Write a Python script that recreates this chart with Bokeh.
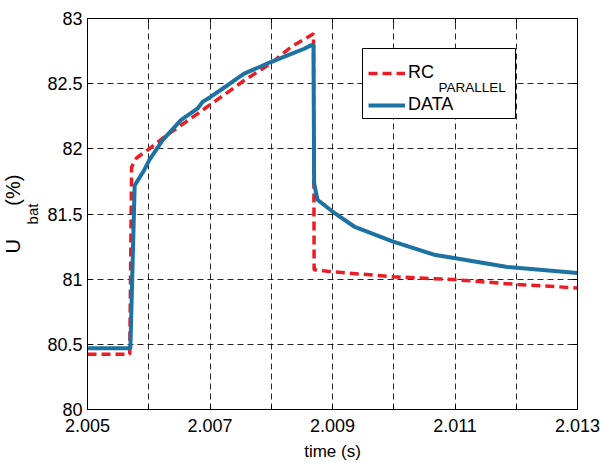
from bokeh.plotting import figure
from bokeh.models import (Range1d, FixedTicker, CustomJSTickFormatter, LinearAxis,
                          Legend, LegendItem, Label, BoxAnnotation, Title)
from bokeh.embed import file_html
from bokeh.resources import INLINE

# ---- data ----
rc_t = [2.00500, 2.00569, 2.00572, 2.00580, 2.00601, 2.00625, 2.00680, 2.00699,
        2.00734, 2.00756, 2.00799, 2.00832, 2.00869, 2.00870, 2.00892, 2.01000,
        2.01098, 2.01202, 2.01300]
rc_u = [80.424, 80.424, 81.86, 81.93, 82.00, 82.09, 82.27, 82.335,
        82.45, 82.526, 82.654, 82.78, 82.883, 81.073, 81.06, 81.018,
        80.997, 80.959, 80.933]

data_t = [2.00500, 2.00570, 2.00577, 2.005927, 2.006008, 2.006227, 2.006525, 2.006798,
          2.006879, 2.007015, 2.007287, 2.007558, 2.007993, 2.008266, 2.008537,
          2.008646, 2.00869, 2.00870, 2.008755, 2.009000, 2.009353, 2.009979,
          2.010657, 2.010984, 2.011855, 2.013000]
data_u = [80.47, 80.47, 81.72, 81.838, 81.914, 82.067, 82.22, 82.31,
          82.36, 82.40, 82.488, 82.577, 82.666, 82.717, 82.768,
          82.794, 82.794, 81.736, 81.609, 81.519, 81.404, 81.29,
          81.188, 81.163, 81.094, 81.048]

x_ticks = [2.005, 2.006, 2.007, 2.008, 2.009, 2.010, 2.011, 2.012, 2.013]
y_ticks = [80, 80.5, 81, 81.5, 82, 82.5, 83]

FONT = "Liberation Sans"
RED = "#ec1c24"
BLUE = "#1c72a2"
NBSP = "\u00a0"

p = figure(width=601, height=463, output_backend="svg", toolbar_location=None,
           x_range=Range1d(2.005, 2.013), y_range=Range1d(80, 83),
           min_border_left=87, min_border_right=24, min_border_top=18,
           min_border_bottom=53, background_fill_color="white",
           border_fill_color="white")
p.outline_line_color = "black"
p.outline_line_width = 1
p.outline_line_alpha = 1

xfmt = CustomJSTickFormatter(code="""
const k = Math.round(tick*1000);
return (k % 2 == 1) ? tick.toFixed(3) : '';
""")
yfmt = CustomJSTickFormatter(code="return String(Math.round(tick*10)/10);")
blank = CustomJSTickFormatter(code="return '';")

for ax in p.xaxis:
    ax.ticker = FixedTicker(ticks=x_ticks)
    ax.formatter = xfmt
    ax.axis_label = "time (s)"
for ax in p.yaxis:
    ax.ticker = FixedTicker(ticks=y_ticks)
    ax.formatter = yfmt

for ax in list(p.xaxis) + list(p.yaxis):
    ax.major_tick_in = 5
    ax.major_tick_out = 0
    ax.minor_tick_line_color = None
    ax.axis_line_color = "black"
    ax.major_tick_line_color = "black"
    ax.major_label_text_font = FONT
    ax.major_label_text_font_size = "18px"
    ax.major_label_text_color = "black"
    ax.axis_label_text_font = FONT
    ax.axis_label_text_font_size = "17px"
    ax.axis_label_text_font_style = "normal"
    ax.axis_label_text_color = "black"

p.xaxis.major_label_standoff = 9
p.xaxis.axis_label_standoff = 7
p.yaxis.major_label_standoff = 5

# mirror axes (inward ticks only) on top and right, as in the reference box
top_ax = LinearAxis(ticker=FixedTicker(ticks=x_ticks), formatter=blank,
                    major_tick_in=5, major_tick_out=0, minor_tick_line_color=None,
                    major_label_standoff=0, axis_line_color="black")
right_ax = LinearAxis(ticker=FixedTicker(ticks=y_ticks), formatter=blank,
                      major_tick_in=5, major_tick_out=0, minor_tick_line_color=None,
                      major_label_standoff=0, axis_line_color="black")
p.add_layout(top_ax, "above")
p.add_layout(right_ax, "right")

for g in (p.xgrid, p.ygrid):
    g.grid_line_color = "black"
    g.grid_line_dash = "6 4"
    g.grid_line_width = 1
    g.grid_line_alpha = 0.85
p.xgrid.ticker = FixedTicker(ticks=x_ticks)
p.ygrid.ticker = FixedTicker(ticks=y_ticks)

r_rc = p.line(rc_t, rc_u, line_color=RED, line_width=3.5, line_dash="9 5")
r_data = p.line(data_t, data_u, line_color=BLUE, line_width=4)

# legend frame (white box, black border), drawn under the legend entries
p.add_layout(BoxAnnotation(left=275, right=428, bottom=291, top=361,
                           left_units="screen", right_units="screen",
                           bottom_units="screen", top_units="screen",
                           fill_color="white", fill_alpha=1,
                           line_color="black", line_width=1, line_alpha=1))
# subscript of the first legend label
p.add_layout(Label(x=351, y=322, x_units="screen", y_units="screen", text="PARALLEL",
                   text_font=FONT, text_font_size="13.5px", text_color="black",
                   text_baseline="alphabetic", text_align="left"))

legend = Legend(items=[LegendItem(label="RC", renderers=[r_rc]),
                       LegendItem(label="DATA", renderers=[r_data])],
                location=(281, 294), padding=8, spacing=11, glyph_width=37,
                glyph_height=20, label_height=20, label_standoff=3,
                label_width=20, label_text_font=FONT, label_text_font_size="18px",
                label_text_color="black", border_line_color=None,
                background_fill_alpha=0, margin=0)
p.add_layout(legend)

# y axis label U_bat (%) as two titles in the left panel
t_bat = Title(text="bat", text_font=FONT, text_font_size="15px",
              text_font_style="normal", text_color="black", align="center",
              offset=-62, standoff=8)
t_main = Title(text="U" + NBSP * 6 + "(%)", text_font=FONT, text_font_size="20px",
               text_font_style="normal", text_color="black", align="center",
               offset=-26)
try:
    t_main.standoff = -13
except Exception:
    t_main.standoff = 0
p.add_layout(t_bat, "left")
p.add_layout(t_main, "left")

open("out.html", "w").write(file_html(p, INLINE))
